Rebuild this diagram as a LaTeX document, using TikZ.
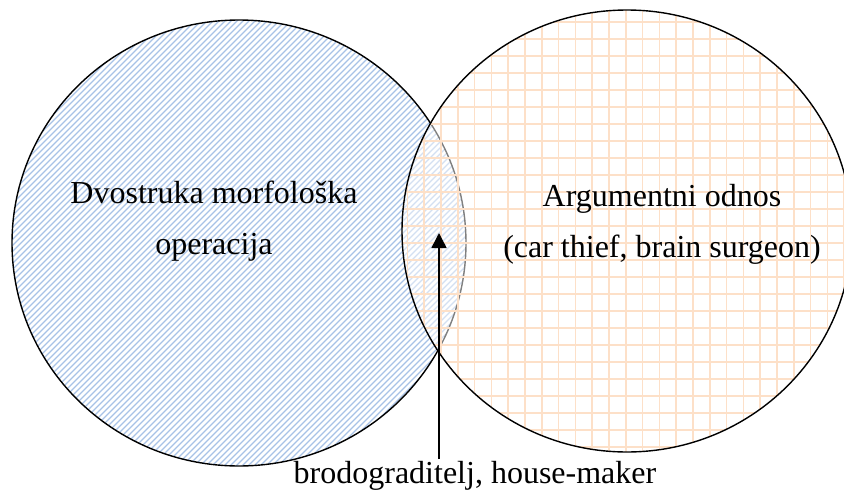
\documentclass[tikz,border=0pt]{standalone}
\usepackage{fontspec}
\setmainfont{Liberation Serif}
\usetikzlibrary{arrows.meta}
\definecolor{hatchblue}{RGB}{168,194,230}
\definecolor{gridorange}{RGB}{253,224,200}
\tikzset{
  outline/.style={draw=black, line width=1.4pt},
  lbl/.style={anchor=base, inner sep=0pt, font=\fontsize{32}{38}\selectfont},
  hatch/.style={draw=hatchblue, line width=1.1pt},
  gridline/.style={draw=gridorange, line width=1.6pt},
  pointer/.style={draw=black, line width=1.5pt, -{Triangle[length=15pt,width=15pt]}}
}
\begin{document}
\begin{tikzpicture}[x=1pt,y=-1pt]
\useasboundingbox (0,0) rectangle (844,498);
% left set
\begin{scope}
  \clip (239,243) ellipse [x radius=227pt, y radius=223pt];
  \foreach \k in {-82,...,80}{
    \draw[hatch] (\k*6,480) -- (\k*6+480,0);
  }
\end{scope}
\draw[outline] (239,243) ellipse [x radius=227pt, y radius=223pt];
% right set
\fill[white, fill opacity=0.5] (627,231) ellipse [x radius=225pt, y radius=221pt];
\begin{scope}
  \clip (627,231) ellipse [x radius=225pt, y radius=221pt];
  \foreach \k in {-13,...,14}{
    \draw[gridline] (609+\k*16.8,0) -- (609+\k*16.8,498);
  }
  \foreach \k in {-1,...,26}{
    \draw[gridline] (380,21.7+\k*17) -- (860,21.7+\k*17);
  }
\end{scope}
\draw[outline] (627,231) ellipse [x radius=225pt, y radius=221pt];
% labels
\node[lbl] (l1) at (214,203) {Dvostruka morfološka};
\node[lbl] (l2) at (214,254) {operacija};
\node[lbl] (r1) at (662,206) {Argumentni odnos};
\node[lbl] (r2) at (662,257) {(car thief, brain surgeon)};
\node[lbl] (b1) at (475,483) {brodograditelj, house-maker};
\coordinate (tail) at (439,459);
\coordinate (tip) at (439,233);
\draw[pointer] (tail) -- (tip);
\end{tikzpicture}
\end{document}
